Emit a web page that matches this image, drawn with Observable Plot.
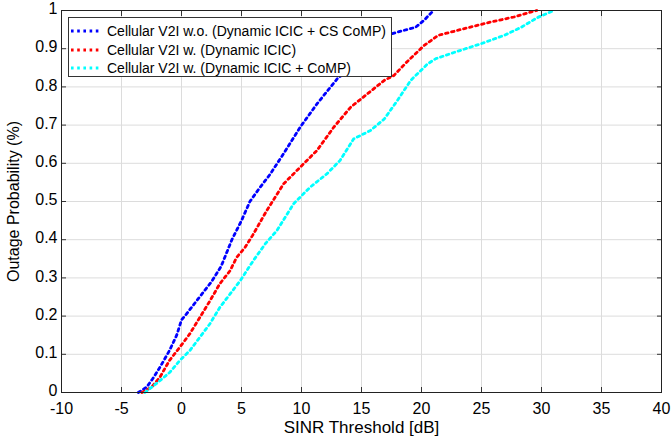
<!DOCTYPE html>
<html><head><meta charset="utf-8">
<script src="https://cdn.jsdelivr.net/npm/d3@7"></script>
<script src="https://cdn.jsdelivr.net/npm/@observablehq/plot@0.6"></script>
<style>
body{margin:0;background:#fff;}
#wrap{position:relative;width:672px;height:441px;font-family:"Liberation Sans",Arial,sans-serif;}
#legend{position:absolute;left:68px;top:17px;width:324px;height:60px;background:#fff;border:1px solid #333;box-sizing:border-box;font-size:14px;color:#000;}
.row{position:absolute;left:0;height:18px;display:flex;align-items:center;white-space:nowrap;}
.row svg{margin-left:2px;margin-right:7px;}
</style></head><body><div id="wrap"></div>
<script>
const xTicks = [-10, -5, 0, 5, 10, 15, 20, 25, 30, 35, 40];
const yTicks = [0, 0.1, 0.2, 0.3, 0.4, 0.5, 0.6, 0.7, 0.8, 0.9, 1];
const seriesNames = [
  "Cellular V2I w.o. (Dynamic ICIC + CS CoMP)",
  "Cellular V2I w. (Dynamic ICIC)",
  "Cellular V2I w. (Dynamic ICIC + CoMP)"
];
const seriesColors = ["#0000ff", "#ff0000", "#00ffff"];

const blueX = [-3.6, -2.9, -2.4, -1.8, -1.0, -0.4, 0.0, 0.4, 1.26, 2.5, 3.3, 4.2, 5.0, 5.7, 6.5, 7.4, 8.5, 9.9, 11.3, 12.97, 14.5, 16.0, 17.1, 18.3, 19.5, 20.2, 21.0];
const blueY = [0, 0.014, 0.036, 0.066, 0.11, 0.15, 0.19, 0.205, 0.24, 0.29, 0.33, 0.4, 0.45, 0.5, 0.535, 0.572, 0.625, 0.695, 0.756, 0.821, 0.86, 0.9, 0.935, 0.946, 0.956, 0.974, 1];

const redX = [-3.3, -2.5, -1.8, -1.0, -0.13, 0.7, 1.54, 2.37, 3.2, 4.05, 4.6, 5.3, 5.9, 7.1, 8.5, 9.9, 11.3, 12.7, 14.1, 15.5, 16.9, 17.7, 18.8, 20.2, 21.4, 23.5, 25.8, 27.7, 29.1, 29.6];
const redY = [0, 0.014, 0.04, 0.084, 0.119, 0.154, 0.197, 0.24, 0.285, 0.319, 0.354, 0.38, 0.41, 0.476, 0.546, 0.59, 0.634, 0.695, 0.747, 0.782, 0.817, 0.83, 0.866, 0.908, 0.935, 0.952, 0.97, 0.983, 0.996, 1];

const cyanX = [-3.05, -2.1, -0.97, -0.13, 0.7, 1.54, 2.37, 3.2, 4.05, 4.9, 6.0, 7.0, 7.95, 9.34, 10.7, 12.1, 13.2, 14.35, 15.75, 16.9, 17.98, 19.1, 20.5, 21.2, 22.7, 24.95, 26.9, 28.3, 29.7, 30.8, 31.1];
const cyanY = [0, 0.023, 0.053, 0.084, 0.11, 0.145, 0.18, 0.223, 0.258, 0.293, 0.346, 0.39, 0.424, 0.494, 0.537, 0.572, 0.607, 0.664, 0.686, 0.716, 0.764, 0.817, 0.86, 0.874, 0.89, 0.913, 0.935, 0.956, 0.982, 0.997, 1];

const toRows = (xs, ys) => xs.map((x, i) => ({x, y: ys[i]}));
const seriesData = [toRows(blueX, blueY), toRows(redX, redY), toRows(cyanX, cyanY)];
const dash = "2.6,3.6";
const lineWidth = 2.8;
const font = '"Liberation Sans", Arial, sans-serif';

const chart = Plot.plot({
  width: 672, height: 441,
  marginLeft: 61, marginRight: 11, marginTop: 10, marginBottom: 49,
  style: {fontFamily: font, fontSize: "16px", background: "white", color: "black", overflow: "visible"},
  x: {domain: [-10, 40]},
  y: {domain: [0, 1]},
  marks: [
    Plot.gridX(xTicks, {stroke: "#dcdcdc", strokeOpacity: 1}),
    Plot.gridY(yTicks, {stroke: "#dcdcdc", strokeOpacity: 1}),
    ...seriesData.map((d, i) => Plot.line(d, {x: "x", y: "y", stroke: seriesColors[i], strokeWidth: lineWidth, strokeDasharray: dash})),
    Plot.axisX(xTicks, {tickSize: 0, tickPadding: 10, tickFormat: d => String(d), fontSize: 16, label: null}),
    Plot.axisX({ticks: [], tickSize: 0, label: "SINR Threshold [dB]", labelAnchor: "center", labelArrow: "none", labelOffset: 40, fontSize: 17}),
    Plot.axisX(xTicks, {tickSize: -5, text: null, label: null, stroke: "#333"}),
    Plot.axisX(xTicks, {anchor: "top", tickSize: -5, text: null, label: null, stroke: "#333"}),
    Plot.axisY(yTicks, {tickSize: 0, tickPadding: 4, dy: -1.5, tickFormat: d => String(+d.toFixed(1)), fontSize: 16, label: null}),
    Plot.axisY({ticks: [], tickSize: 0, label: "Outage Probability (%)", labelAnchor: "center", labelArrow: "none", labelOffset: 54, fontSize: 16}),
    Plot.axisY(yTicks, {tickSize: -5, text: null, label: null, stroke: "#333"}),
    Plot.axisY(yTicks, {anchor: "right", tickSize: -5, text: null, label: null, stroke: "#333"}),
    Plot.frame({stroke: "#222"})
  ]
});

const wrap = document.getElementById("wrap");
wrap.appendChild(chart);
const legend = document.createElement("div");
legend.id = "legend";
seriesNames.forEach((name, i) => {
  const row = document.createElement("div");
  row.className = "row";
  row.style.top = (4 + i * 18.5) + "px";
  row.innerHTML = `<svg width="29" height="6"><line x1="0" y1="3" x2="29" y2="3" stroke="${seriesColors[i]}" stroke-width="${lineWidth}" stroke-dasharray="${dash}"/></svg><span>${name}</span>`;
  legend.appendChild(row);
});
wrap.appendChild(legend);
</script>
</body></html>
